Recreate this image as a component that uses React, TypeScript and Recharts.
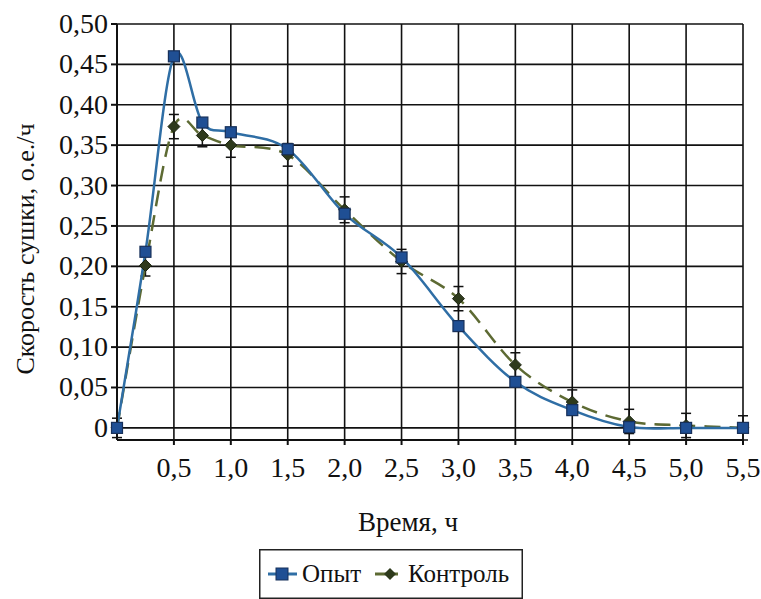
import { LineChart, Line, XAxis, YAxis, CartesianGrid, ErrorBar, Legend, Label } from 'recharts';

const time = [0, 0.25, 0.5, 0.75, 1.0, 1.5, 2.0, 2.5, 3.0, 3.5, 4.0, 4.5, 5.0, 5.5];
const opyt = [0, 0.218, 0.46, 0.378, 0.366, 0.345, 0.265, 0.211, 0.126, 0.057, 0.022, 0.001, 0, 0];
const kontrol = [0, 0.201, 0.373, 0.362, 0.35, 0.338, 0.27, 0.206, 0.16, 0.078, 0.032, 0.008, 0.003, 0];
const kontrolErr = [0.012, 0.013, 0.015, 0.014, 0.015, 0.014, 0.016, 0.015, 0.015, 0.015, 0.015, 0.015, 0.015, 0.015];

const xTicks = [0.5, 1.0, 1.5, 2.0, 2.5, 3.0, 3.5, 4.0, 4.5, 5.0, 5.5];
const yTicks = [0, 0.05, 0.1, 0.15, 0.2, 0.25, 0.3, 0.35, 0.4, 0.45, 0.5];

const data = time.map((t, i) => ({
    t,
    opyt: opyt[i],
    kontrol: kontrol[i],
    err: kontrolErr[i],
}));

const FONT = 'Liberation Serif';
const BLUE_LINE = '#2f6ea5';
const BLUE_MARK = '#1f4f94';
const OLIVE = '#5d6a33';
const DIAMOND = '#2e3a1c';

const fmtX = (v: number) => v.toFixed(1).replace('.', ',');
const fmtY = (v: number) => (v === 0 ? '0' : v.toFixed(2).replace('.', ','));

// excel-like smoothed line (catmull-rom through the points)
const smoothCurve = (context: any) => {
    let pts: number[][] = [];
    return {
        areaStart() {},
        areaEnd() {},
        lineStart() {
            pts = [];
        },
        point(x: number, y: number) {
            pts.push([+x, +y]);
        },
        lineEnd() {
            if (!pts.length) return;
            context.moveTo(pts[0][0], pts[0][1]);
            for (let i = 0; i < pts.length - 1; i++) {
                const p0 = pts[i - 1] || pts[i];
                const p1 = pts[i];
                const p2 = pts[i + 1];
                const p3 = pts[i + 2] || p2;
                context.bezierCurveTo(
                    p1[0] + (p2[0] - p0[0]) / 6,
                    p1[1] + (p2[1] - p0[1]) / 6,
                    p2[0] - (p3[0] - p1[0]) / 6,
                    p2[1] - (p3[1] - p1[1]) / 6,
                    p2[0],
                    p2[1],
                );
            }
        },
    };
};

const XTick = (props: any) => {
    const { x, y, payload } = props;
    return (
        <text x={x} y={y + 30} textAnchor="middle" fontSize={28} fontFamily={FONT} fill="#111">
            {fmtX(payload.value)}
        </text>
    );
};

const YTick = (props: any) => {
    const { x, y, payload } = props;
    return (
        <text x={x - 1} y={y + 9} textAnchor="end" fontSize={28} fontFamily={FONT} fill="#111">
            {fmtY(payload.value)}
        </text>
    );
};

const SquareDot = (props: any) => {
    const { cx, cy, index } = props;
    if (cx == null || cy == null) return null;
    return <rect key={'sq' + index} x={cx - 5.5} y={cy - 5.5} width={11} height={11} fill={BLUE_MARK} stroke="#17305a" strokeWidth={1.2} />;
};

const DiamondDot = (props: any) => {
    const { cx, cy, index } = props;
    if (cx == null || cy == null) return null;
    const r = 6;
    return (
        <path
            key={'dm' + index}
            d={`M${cx},${cy - r}L${cx + r},${cy}L${cx},${cy + r}L${cx - r},${cy}Z`}
            fill={DIAMOND}
            stroke="#1c2410"
            strokeWidth={1}
        />
    );
};

const LegendBox = () => (
    <svg width={264} height={50}>
        <rect x={0.75} y={0.75} width={262.5} height={48.5} fill="#fff" stroke="#222" strokeWidth={1.5} />
        <line x1={9} y1={25} x2={38} y2={25} stroke={BLUE_LINE} strokeWidth={3} />
        <rect x={17} y={19} width={12} height={12} fill={BLUE_MARK} stroke="#17305a" />
        <text x={43} y={33} fontSize={25} fontFamily={FONT} fill="#111">Опыт</text>
        <line x1={116} y1={25} x2={139} y2={25} stroke={OLIVE} strokeWidth={3} />
        <path d="M131,19L137,25L131,31L125,25Z" fill={DIAMOND} />
        <text x={149} y={33} fontSize={25} fontFamily={FONT} fill="#111">Контроль</text>
    </svg>
);

const App = () => {
    return (
        <div style={{ position: 'absolute', left: 0, top: 0, background: '#fff' }}>
            <LineChart
                width={761}
                height={599}
                data={data}
                margin={{ top: 24, right: 18, left: 0, bottom: 129 }}
            >
                <CartesianGrid stroke="#111" strokeWidth={1.6} />
                <XAxis
                    dataKey="t"
                    type="number"
                    domain={[0, 5.5]}
                    ticks={xTicks}
                    height={30}
                    tickSize={5}
                    stroke="#111"
                    strokeWidth={2}
                    tick={<XTick />}
                >
                    <Label
                        content={() => (
                            <text x={408} y={531} textAnchor="middle" fontSize={27} fontFamily={FONT} fill="#111">
                                Время, ч
                            </text>
                        )}
                    />
                </XAxis>
                <YAxis
                    type="number"
                    domain={[0, 0.5]}
                    ticks={yTicks}
                    width={117}
                    tickSize={6}
                    stroke="#111"
                    strokeWidth={2}
                    tick={<YTick />}
                >
                    <Label
                        content={() => (
                            <text
                                transform="translate(34,249) rotate(-90)"
                                textAnchor="middle"
                                fontSize={26}
                                fontFamily={FONT}
                                fill="#111"
                            >
                                Скорость сушки, о.е./ч
                            </text>
                        )}
                    />
                </YAxis>
                <Legend
                    layout="horizontal"
                    align="center"
                    verticalAlign="middle"
                    wrapperStyle={{ position: 'absolute', left: 259, top: 549, width: 264 }}
                    content={() => <LegendBox />}
                />
                <Line
                    type={smoothCurve as any}
                    dataKey="kontrol"
                    name="Контроль"
                    stroke={OLIVE}
                    strokeWidth={2.5}
                    strokeDasharray="16 9"
                    dot={DiamondDot}
                    isAnimationActive={false}
                >
                    <ErrorBar dataKey="err" direction="y" width={5} stroke="#111" strokeWidth={1.5} isAnimationActive={false} />
                </Line>
                <Line
                    type={smoothCurve as any}
                    dataKey="opyt"
                    name="Опыт"
                    stroke={BLUE_LINE}
                    strokeWidth={2.5}
                    dot={SquareDot}
                    isAnimationActive={false}
                />
            </LineChart>
        </div>
    );
};

export default App;
